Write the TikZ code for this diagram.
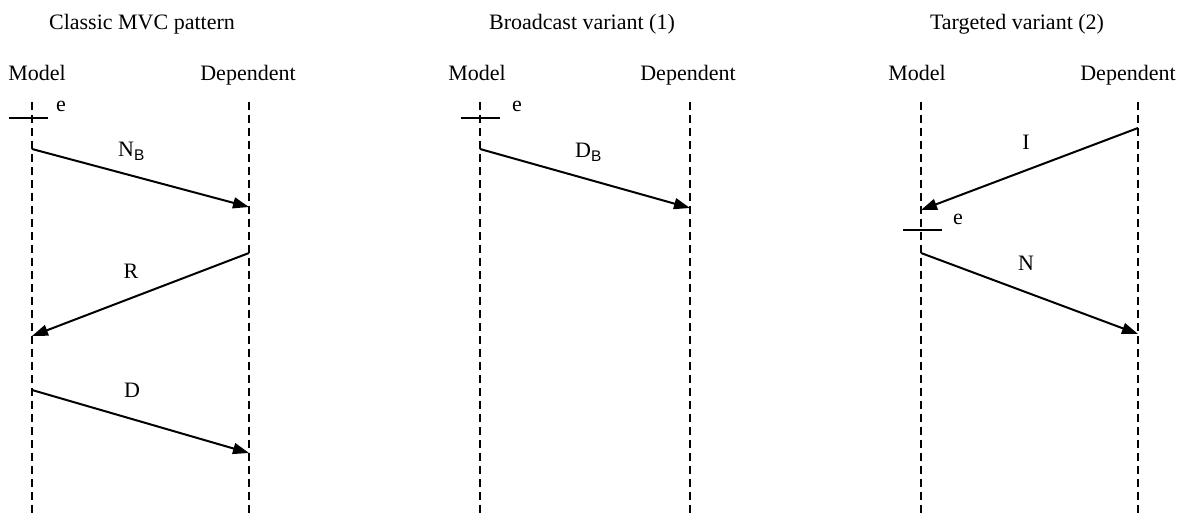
\documentclass[tikz,border=0pt]{standalone}
\usepackage{fontspec}
\setmainfont{Liberation Serif}
\newfontfamily\subfont{Liberation Sans}
\usetikzlibrary{arrows.meta, positioning}
\newcommand{\msgsub}[1]{\textsubscript{\subfont #1}}

\begin{document}
\begin{tikzpicture}[x=1pt, y=-1pt, >={Triangle[length=16pt, width=11pt]},
  lifeline/.style={line width=1.8pt, dash pattern=on 8pt off 5pt},
  msg/.style={line width=2pt, ->},
  evbar/.style={line width=1.8pt},
  lbl/.style={font=\fontsize{22}{26}\selectfont, inner sep=0pt, anchor=base}]

\useasboundingbox (0,0) rectangle (1184,518);

% Panel titles
\node[lbl] (title1) at (142,30) {Classic MVC pattern};
\node[lbl] (title2) at (582,30) {Broadcast variant (1)};
\node[lbl] (title3) at (1017,30) {Targeted variant (2)};

% Lifelines and their heads
\foreach \nm/\x/\lx/\txt in {m1/32/37/Model, d1/249/248/Dependent,
                             m2/480/477/Model, d2/690/688/Dependent,
                             m3/921/917/Model, d3/1138/1128/Dependent} {
  \node[lbl] (\nm head) at (\lx,81) {\txt};
  \coordinate (\nm top) at (\x,102);
  \coordinate (\nm bot) at (\x,518);
  \draw[lifeline] (\nm top) -- (\nm bot);
}

% Classic MVC pattern
\coordinate (e1l) at (9,118);
\coordinate (e1r) at (48,118);
\draw[evbar] (e1l) -- (e1r);
\node[lbl] (e1) at (61,112) {e};
\coordinate (nbs) at (32,149);
\coordinate (nbe) at (249,207);
\draw[msg] (nbs) -- (nbe);
\node[lbl, anchor=base west] (nb) at (118,157) {N\msgsub{B}};
\coordinate (rs) at (249,253);
\coordinate (re) at (32,336);
\draw[msg] (rs) -- (re);
\node[lbl] (r) at (131,279) {R};
\coordinate (ds) at (32,390);
\coordinate (de) at (249,453);
\draw[msg] (ds) -- (de);
\node[lbl] (d) at (132,398) {D};

% Broadcast variant
\coordinate (e2l) at (461,118);
\coordinate (e2r) at (500,118);
\draw[evbar] (e2l) -- (e2r);
\node[lbl] (e2) at (517,112) {e};
\coordinate (dbs) at (480,149);
\coordinate (dbe) at (690,208);
\draw[msg] (dbs) -- (dbe);
\node[lbl, anchor=base west] (db) at (575,158) {D\msgsub{B}};

% Targeted variant
\coordinate (is) at (1138,128);
\coordinate (ie) at (921,210);
\draw[msg] (is) -- (ie);
\node[lbl] (i) at (1026,150) {I};
\coordinate (e3l) at (903,230);
\coordinate (e3r) at (942,230);
\draw[evbar] (e3l) -- (e3r);
\node[lbl] (e3) at (958,225) {e};
\coordinate (ns) at (921,253);
\coordinate (ne) at (1138,334);
\draw[msg] (ns) -- (ne);
\node[lbl] (n) at (1026,271) {N};

\end{tikzpicture}
\end{document}
